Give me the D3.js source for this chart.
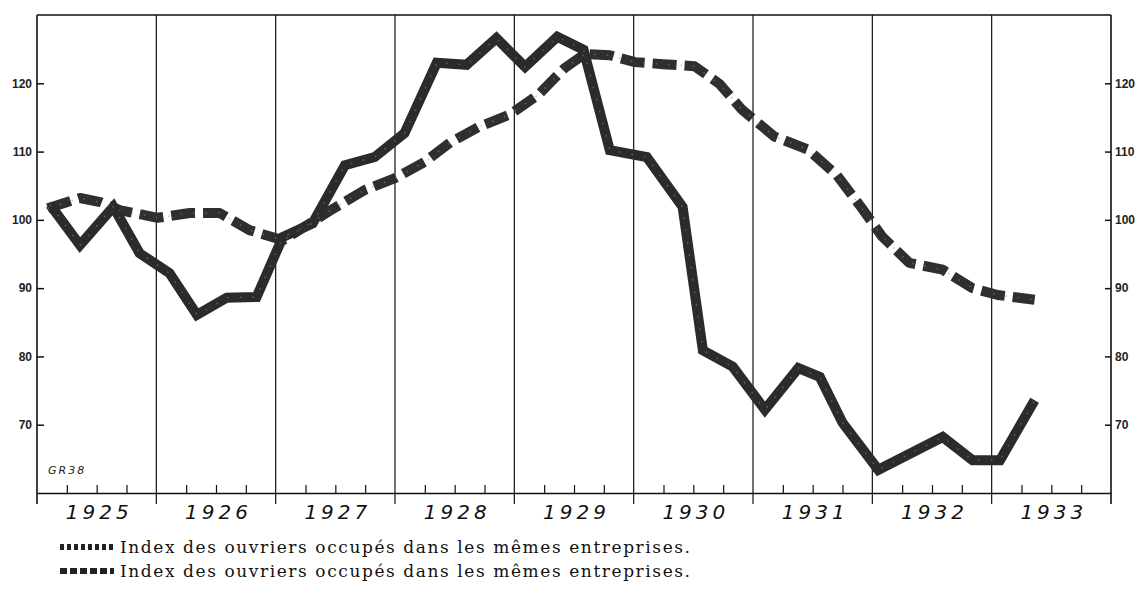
<!DOCTYPE html>
<html>
<head>
<meta charset="utf-8">
<script src="https://cdn.jsdelivr.net/npm/d3@7"></script>
<style>
  body { margin: 0; background: #fff; }
  .yaxis text { font-family: "Liberation Sans Narrow", "Liberation Sans", sans-serif; font-weight: bold; font-size: 12px; fill: #222; }
  .year text { font-family: "DejaVu Sans", sans-serif; font-style: oblique; font-size: 20px; letter-spacing: 4px; fill: #111; }
  .legend text { font-family: "DejaVu Serif", serif; font-size: 17px; fill: #111; }
</style>
</head>
<body>
<div id="chart"></div>
<script>
// data (fractional year, index value)
const solidDates = [1925.11, 1925.36, 1925.64, 1925.86, 1926.11, 1926.34, 1926.59, 1926.84, 1927.06, 1927.31,
  1927.58, 1927.83, 1928.08, 1928.35, 1928.60, 1928.85, 1929.09, 1929.36, 1929.58, 1929.80,
  1930.11, 1930.41, 1930.58, 1930.83, 1931.10, 1931.38, 1931.56, 1931.75, 1932.05, 1932.59,
  1932.84, 1933.07, 1933.36];
const solidValues = [102.2, 96.3, 101.9, 95.1, 92.2, 86.1, 88.6, 88.7, 97.5, 99.5,
  108.0, 109.2, 112.7, 123.0, 122.7, 126.6, 122.4, 126.8, 124.9, 110.2,
  109.2, 101.9, 80.9, 78.5, 72.2, 78.3, 77.0, 70.3, 63.4, 68.2,
  64.8, 64.8, 73.6];

const dashedDates = [1925.09, 1925.36, 1925.53, 1925.70, 1926.01, 1926.28, 1926.53, 1926.78, 1927.06, 1927.46,
  1927.75, 1928.00, 1928.25, 1928.46, 1928.70, 1928.96, 1929.20, 1929.42, 1929.59, 1929.80,
  1930.01, 1930.25, 1930.51, 1930.72, 1930.91, 1931.18, 1931.46, 1931.70, 1931.90, 1932.08,
  1932.31, 1932.59, 1932.84, 1933.05, 1933.36];
const dashedValues = [101.7, 103.2, 102.6, 101.4, 100.3, 101.0, 101.0, 98.5, 97.0, 101.4,
  104.4, 106.1, 108.5, 111.3, 113.6, 115.4, 118.3, 122.2, 124.3, 124.1,
  123.1, 122.8, 122.5, 119.9, 116.1, 112.2, 110.3, 106.6, 102.0, 97.6,
  93.7, 92.7, 90.0, 89.0, 88.3];

const years = [1925, 1926, 1927, 1928, 1929, 1930, 1931, 1932, 1933];
const yTicks = [70, 80, 90, 100, 110, 120];
const legendLabels = ["Index des ouvriers occupés dans les mêmes entreprises.",
                      "Index des ouvriers occupés dans les mêmes entreprises."];

var W = 1138, H = 596;
var svg = d3.select("#chart").append("svg")
  .attr("width", W).attr("height", H);

var x = d3.scaleLinear().domain([1925, 1934]).range([37, 1111]);
var y = d3.scaleLinear().domain([60, 130]).range([493, 15]);

// year boundaries (vertical lines, extending a bit under the axis)
var bounds = d3.range(1925, 1935);
svg.selectAll(".vline").data(bounds).enter().append("line")
  .attr("x1", d => x(d)).attr("x2", d => x(d))
  .attr("y1", y(130)).attr("y2", y(60) + 11)
  .attr("stroke", "#111").attr("stroke-width", d => (d == 1925 || d == 1934) ? 1.6 : 1.2);

// top border
svg.append("line")
  .attr("x1", x(1925)).attr("x2", x(1934))
  .attr("y1", y(130)).attr("y2", y(130))
  .attr("stroke", "#111").attr("stroke-width", 1.6);

// bottom axis with quarter ticks pointing up
var quarters = [];
years.forEach(function(yr) { [0.25, 0.5, 0.75].forEach(q => quarters.push(yr + q)); });
var xAxis = svg.append("g")
  .attr("transform", "translate(0," + y(60) + ")")
  .call(d3.axisBottom(x).tickValues(quarters).tickSize(-8).tickSizeOuter(0).tickFormat(""));
xAxis.select(".domain").attr("stroke", "#111").attr("stroke-width", 1.5);
xAxis.selectAll(".tick line").attr("stroke", "#111").attr("stroke-width", 1.2);

// year labels centred in each year
var yearAxis = svg.append("g").attr("class", "year")
  .attr("transform", "translate(0," + y(60) + ")")
  .call(d3.axisBottom(x).tickValues(years.map(d => d + 0.5)).tickSize(0).tickPadding(8)
    .tickFormat(d => String(Math.floor(d))));
yearAxis.select(".domain").remove();
yearAxis.selectAll("text").attr("dy", "0.9em").attr("dx", "2px");

// left and right value axes, ticks pointing inward
var left = svg.append("g").attr("class", "yaxis")
  .attr("transform", "translate(" + x(1925) + ",0)")
  .call(d3.axisLeft(y).tickValues(yTicks).tickSize(-7).tickPadding(5));
left.select(".domain").remove();
left.selectAll(".tick line").attr("stroke", "#111").attr("stroke-width", 1.5);

var right = svg.append("g").attr("class", "yaxis")
  .attr("transform", "translate(" + x(1934) + ",0)")
  .call(d3.axisRight(y).tickValues(yTicks).tickSize(-6).tickPadding(4));
right.select(".domain").remove();
right.selectAll(".tick line").attr("stroke", "#111").attr("stroke-width", 1.5);

// the two series
var solid = solidDates.map((d, i) => ({date: d, value: solidValues[i]}));
var dashed = dashedDates.map((d, i) => ({date: d, value: dashedValues[i]}));
var line = d3.line().x(d => x(d.date)).y(d => y(d.value));

svg.append("path").datum(dashed)
  .attr("d", line)
  .attr("fill", "none")
  .attr("stroke", "#2f2f2f")
  .attr("stroke-width", 10)
  .attr("stroke-dasharray", "24,8")
  .attr("stroke-linejoin", "round");

svg.append("path").datum(solid)
  .attr("d", line)
  .attr("fill", "none")
  .attr("stroke", "#2b2b2b")
  .attr("stroke-width", 10)
  .attr("stroke-linejoin", "miter")
  .attr("stroke-linecap", "butt");

// faint speckle texture on both lines
[solid, dashed].forEach(function(s) {
  svg.append("path").datum(s)
    .attr("d", line)
    .attr("fill", "none")
    .attr("stroke", "#8a8a8a")
    .attr("stroke-width", 1.5)
    .attr("stroke-dasharray", "1.5,11")
    .attr("opacity", 0.55);
});

// small mark in the corner
svg.append("text")
  .attr("x", 48).attr("y", 474)
  .style("font-family", "DejaVu Sans, sans-serif")
  .style("font-style", "oblique")
  .style("font-size", "11px")
  .style("letter-spacing", "2px")
  .style("fill", "#222")
  .text("GR38");

// legend
var legend = svg.append("g").attr("class", "legend");
var dashPatterns = ["4,3", "7,3"];
legendLabels.forEach(function(label, i) {
  var ly = 547 + i * 24;
  legend.append("line")
    .attr("x1", 60).attr("x2", 114)
    .attr("y1", ly).attr("y2", ly)
    .attr("stroke", "#222").attr("stroke-width", 6)
    .attr("stroke-dasharray", dashPatterns[i]);
  legend.append("text")
    .attr("x", 120).attr("y", ly + 6)
    .attr("textLength", 570)
    .text(label);
});
</script>
</body>
</html>
